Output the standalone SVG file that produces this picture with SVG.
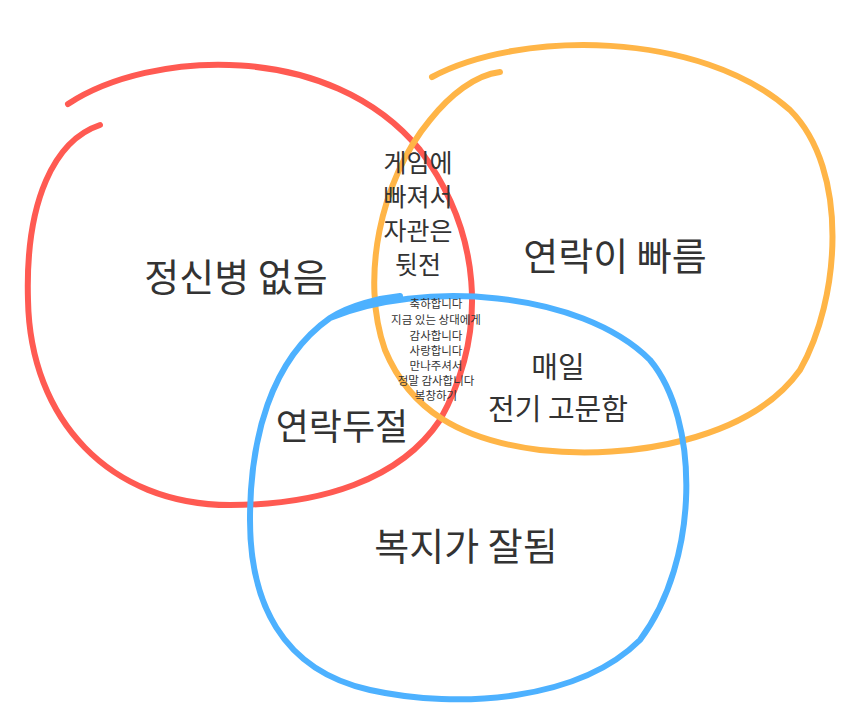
<svg xmlns="http://www.w3.org/2000/svg" width="865" height="725" viewBox="0 0 865 725">
<style>
.c{fill:none;stroke-width:6;stroke-linecap:round}
.t{font-family:"Noto Sans CJK KR","Noto Sans",sans-serif;fill:#333;text-anchor:middle}
</style>
<rect width="865" height="725" fill="#fff"/>
<g id="connectors">
<path class="c" stroke="#ff5a52" d="M68,104 C150,50 330,40 420,150 C480,230 490,330 440,420 C400,480 320,505 230,505 C110,505 30,420 28,300 C25,200 55,140 100,125"/>
<path class="c" stroke="#ffb547" d="M432,77 C520,30 700,30 790,110 C850,170 840,300 800,370 C750,440 630,460 540,450 C460,440 410,410 385,350 C360,280 380,180 430,120 C450,95 475,75 500,72"/>
<path class="c" stroke="#4db1ff" d="M330,318 C420,280 580,290 650,360 C700,420 700,560 640,640 C580,700 460,710 370,690 C280,670 250,600 250,520 C250,440 270,360 330,318 C350,305 380,298 400,296"/>
</g>
<g id="n1"><text class="t" x="236" y="291" font-size="38">정신병 없음</text></g>
<g id="n2"><text class="t" x="615" y="270" font-size="38">연락이 빠름</text></g>
<g id="n3"><text class="t" x="466" y="560" font-size="38">복지가 잘됨</text></g>
<g id="n4"><text class="t" x="342" y="440" font-size="36">연락두절</text></g>
<g id="n5"><text class="t" font-size="25"><tspan x="418" y="172">게임에</tspan><tspan x="418" y="206">빠져서</tspan><tspan x="418" y="240">자관은</tspan><tspan x="418" y="274">뒷전</tspan></text></g>
<g id="n6"><text class="t" font-size="29"><tspan x="558" y="378">매일</tspan><tspan x="558" y="420">전기 고문함</tspan></text></g>
<g id="n7"><text class="t" font-size="11.5"><tspan x="436" y="308">축하합니다</tspan><tspan x="436" y="324">지금 있는 상대에게</tspan><tspan x="436" y="340">감사합니다</tspan><tspan x="436" y="355">사랑합니다</tspan><tspan x="436" y="370">만나주셔서</tspan><tspan x="436" y="385">정말 감사합니다</tspan><tspan x="436" y="400">복창하기</tspan></text></g>
</svg>
